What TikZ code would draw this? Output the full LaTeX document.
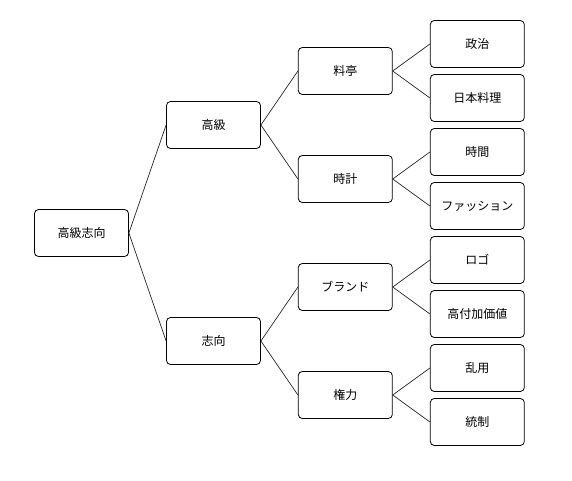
\documentclass[tikz,border=0pt]{standalone}
\usepackage{fontspec}
\setmainfont{Noto Sans CJK JP}
\begin{document}
\begin{tikzpicture}[x=1pt,y=-1pt,
  box/.style={draw=black,line width=0.8pt,rounded corners=4pt,minimum width=94pt,minimum height=47pt,inner sep=0pt,font=\fontsize{12pt}{14pt}\selectfont,fill=white},
  conn/.style={draw=black!85,line width=0.7pt}]
\useasboundingbox (0,0) rectangle (572,480);
\node[box] (root) at (81.5,233) {高級志向};
\node[box] (a) at (213.5,125) {高級};
\node[box] (b) at (213.5,341) {志向};
\node[box] (a1) at (345.3,71) {料亭};
\node[box] (a2) at (345.3,179) {時計};
\node[box] (b1) at (345.3,287) {ブランド};
\node[box] (b2) at (345.3,395) {権力};
\node[box] (a11) at (477.3,44) {政治};
\node[box] (a12) at (477.3,98) {日本料理};
\node[box] (a21) at (477.3,152) {時間};
\node[box] (a22) at (477.3,206) {ファッション};
\node[box] (b11) at (477.3,260) {ロゴ};
\node[box] (b12) at (477.3,314) {高付加価値};
\node[box] (b21) at (477.3,368) {乱用};
\node[box] (b22) at (477.3,422) {統制};
\foreach \p/\c in {root/a,root/b,a/a1,a/a2,b/b1,b/b2,a1/a11,a1/a12,a2/a21,a2/a22,b1/b11,b1/b12,b2/b21,b2/b22}
  \draw[conn] (\p.east) -- (\c.west);
\end{tikzpicture}
\end{document}
